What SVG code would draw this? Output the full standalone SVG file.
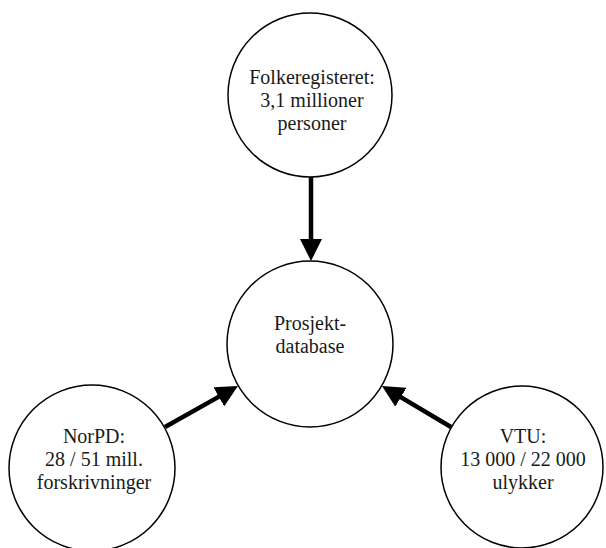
<svg xmlns="http://www.w3.org/2000/svg" width="606" height="548" viewBox="0 0 606 548">
<style>
.node circle{fill:#fff;stroke:#000;stroke-width:1.5}
.node text{font-family:"Liberation Serif","Times New Roman",serif;font-size:20px;fill:#1a1a1a;text-anchor:middle}
.conn line{stroke:#000;stroke-width:4.5;fill:none;marker-end:url(#ah)}
</style>
<defs>
<marker id="ah" markerUnits="userSpaceOnUse" markerWidth="22" markerHeight="22" refX="10" refY="11" orient="auto" viewBox="0 0 22 22">
<path d="M0,0 L22,11 L0,22 z" fill="#000"/>
</marker>
</defs>
<rect width="606" height="548" fill="#fff"/>
<g id="folkeregisteret" class="node">
<circle cx="310" cy="95" r="82"/>
<text x="312" y="84">Folkeregisteret:</text>
<text x="312" y="107">3,1 millioner</text>
<text x="312" y="130">personer</text>
</g>
<g id="prosjektdatabase" class="node">
<circle cx="310" cy="344" r="83"/>
<text x="310" y="330">Prosjekt-</text>
<text x="310" y="353">database</text>
</g>
<g id="norpd" class="node">
<circle cx="92" cy="468" r="83"/>
<text x="94" y="443">NorPD:</text>
<text x="94" y="466">28 / 51 mill.</text>
<text x="94" y="489">forskrivninger</text>
</g>
<g id="vtu" class="node">
<circle cx="522" cy="467" r="81"/>
<text x="523" y="443">VTU:</text>
<text x="523" y="466">13 000 / 22 000</text>
<text x="523" y="489">ulykker</text>
</g>
<g id="connectors" class="conn">
<line x1="311" y1="177" x2="311" y2="249"/>
<line x1="165" y1="427" x2="227.5" y2="391.9"/>
<line x1="451" y1="427" x2="392.3" y2="392.1"/>
</g>
</svg>
